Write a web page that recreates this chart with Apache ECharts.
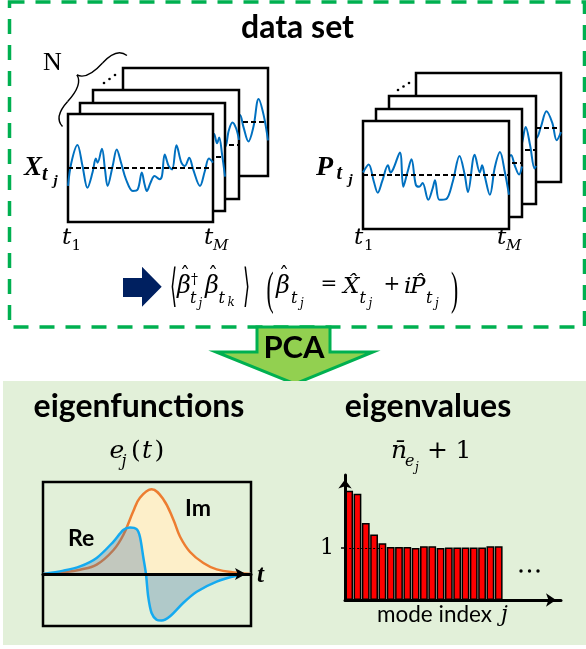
<!DOCTYPE html>
<html><head><meta charset="utf-8">
<script src="https://cdn.jsdelivr.net/npm/echarts@6/dist/echarts.min.js"></script>
<style>html,body{margin:0;padding:0;background:#fff}#c{width:586px;height:649px}</style>
</head><body><div id="c"></div>
<script>
// ---------------- data ----------------
// time-series frames (t from 0 = t1 to 100 = tM), normalized amplitude
const xSignalFront = [[0,-0.78],[2.3,0.23],[6.5,1.0],[10,0.09],[13.4,-0.86],[16.9,-0.2],[19.2,0.41],[20.4,0.23],[23.4,0.84],[25.5,-0.06],[27.3,-0.78],[30.8,0.09],[33.6,0.81],[36.6,0.23],[40,-0.49],[44.7,-1.0],[48.1,-0.93],[50.9,-0.2],[52.8,-0.71],[54.4,-1.0],[56.9,-0.64],[59.7,-0.35],[63.2,-0.49],[64.8,-0.35],[66.7,0.59],[69.4,0.09],[71.8,-0.06],[74.8,0.99],[78.2,0.23],[80.6,0.09],[83.6,0.45],[86.3,-0.06],[91,-0.78],[94.4,-0.13],[97.2,0.41],[100,0.23]];
const xSignalBack1 = [[84,-0.6],[88,-0.3],[90.5,0.6],[92.5,1.0],[94.5,0.6],[96,0.85],[98,0.1],[100,-0.85]];
const xSignalBack2 = [[84,-0.5],[87,0.3],[90.5,-0.1],[93,0.6],[95.5,0.95],[98,0.7],[100,0.2]];
const xSignalBack3 = [[72,0.6],[76,-0.4],[80.7,0.3],[83,-0.2],[86.5,-0.85],[90,-0.2],[93.5,1.0],[97,0.3],[100,-0.8]];
const pSignalFront = [[0,0.11],[3.9,0.46],[7.4,-0.28],[10.1,-0.77],[13.1,-0.28],[17.1,0.42],[18.9,0.11],[20.7,0.26],[25.3,0.98],[27.6,-0.51],[30.4,0.11],[33.2,0.68],[36.2,-0.43],[38.5,-0.51],[40.8,-0.35],[44.7,-1.08],[47.7,-0.58],[49.3,-0.23],[52.3,-1.08],[56.9,-1.05],[61.5,-0.28],[66.1,0.83],[69.6,0.03],[71.9,-0.74],[76.5,0.88],[80,0.11],[81.6,0.42],[83.4,-0.05],[86.9,-0.86],[90.3,0.34],[93.8,1.0],[97.2,0.11],[100,-0.86]];
const pSignalBack1 = [[84,-0.5],[87,-0.4],[90,0.1],[92.5,0.35],[95,-0.1],[98,-0.5],[100,-0.15]];
const pSignalBack2 = [[84,0.4],[86.5,-0.6],[90.5,0.3],[93,1.0],[96,0.2],[99,-0.8],[100,-0.7]];
const pSignalBack3 = [[72,-0.3],[76,0.5],[80,-0.3],[83,-0.45],[86,0.0],[90,0.7],[94,0.2],[97,-0.55],[100,-0.2]];
// eigenfunction e_j(t): [t, value]
const imPart = [[0,0],[9.8,0.02],[17.8,0.05],[25.8,0.11],[33.8,0.28],[38.6,0.46],[43.4,0.74],[46.6,0.9],[52.2,1.0],[57.9,0.88],[62.7,0.64],[65.9,0.44],[70.7,0.26],[77.1,0.13],[83.5,0.055],[93.1,0.016],[100,0]];
const rePart = [[0,0],[9.8,0.04],[17.8,0.09],[25.8,0.19],[33.8,0.38],[38.6,0.52],[41.8,0.55],[45,0.53],[46.6,0.44],[48.2,0.2],[49.5,0],[50.6,-0.27],[52.2,-0.46],[54.6,-0.54],[57,-0.55],[61.1,-0.5],[67.5,-0.34],[73.9,-0.21],[83.5,-0.09],[93.1,-0.02],[100,0]];
// eigenvalues n_e + 1 per mode index
const modeIndex = ['1','2','3','4','5','6','7','8','9','10','11','12','13','14','15','16','17','18','19','20','21','22','23','24','25','26'];
const eigenvalues = [2.10,2.04,1.48,1.26,1.09,1.02,1.02,1.02,1.0,1.03,1.03,1.0,1.01,1.01,1.01,1.01,1.01,1.03,1.03];
const eigenTickValues = [1];

// ---------------- layout ----------------
const xFrames = [ // back -> front : [left, top, width, height]
  {rect:[123,68,145,108], data:xSignalBack3},
  {rect:[93,90,146,109], data:xSignalBack2},
  {rect:[80,103,145,108], data:xSignalBack1},
  {rect:[68,114,145,108], data:xSignalFront}
];
const pFrames = [
  {rect:[416,73,145,109], data:pSignalBack3},
  {rect:[389,96,147,108], data:pSignalBack2},
  {rect:[376,109,146,108], data:pSignalBack1},
  {rect:[363,121,146,108], data:pSignalFront}
];

const grids = [], xAxes = [], yAxes = [], series = [];
function addFrame(f, layer) {
  const gi = grids.length, z = 10 + layer * 10;
  grids.push({left:f.rect[0], top:f.rect[1], width:f.rect[2], height:f.rect[3], show:true,
    backgroundColor:'#fff', borderColor:'#000', borderWidth:2.5, z:z});
  xAxes.push({gridIndex:gi, type:'value', min:0, max:100, show:false});
  yAxes.push({gridIndex:gi, type:'value', min:-2.35, max:2.35, show:false});
  series.push({type:'line', xAxisIndex:gi, yAxisIndex:gi, data:f.data, smooth:0.35, symbol:'none',
    lineStyle:{color:'#0070c0', width:2}, z:z+1,
    markLine:{silent:true, symbol:'none', z:z+2, animation:false, label:{show:false},
      lineStyle:{color:'#000', type:[5,3], width:1.8}, data:[{yAxis:0}]}});
}
xFrames.forEach((f,i)=>addFrame(f,i));
pFrames.forEach((f,i)=>addFrame(f,i));

// eigenfunction panel
let gi = grids.length;
grids.push({left:43, top:482, width:208, height:144, show:true, backgroundColor:'transparent',
  borderColor:'#000', borderWidth:2.5, z:5});
xAxes.push({gridIndex:gi, type:'value', min:0, max:100, z:10,
  axisLine:{show:true, onZero:true, symbol:['none','arrow'], symbolSize:[9,11], symbolOffset:[0,-5],
    lineStyle:{color:'#000', width:3}},
  axisTick:{show:false}, axisLabel:{show:false}, splitLine:{show:false}});
yAxes.push({gridIndex:gi, type:'value', min:-0.614, max:1.086, show:false});
series.push({type:'line', name:'Im', xAxisIndex:gi, yAxisIndex:gi, data:imPart, smooth:0.4, symbol:'none',
  lineStyle:{color:'#ed7d31', width:2.5}, areaStyle:{color:'#fdefc9', opacity:1, origin:0}, z:6});
series.push({type:'line', name:'Re', xAxisIndex:gi, yAxisIndex:gi, data:rePart, smooth:0.3, symbol:'none',
  lineStyle:{color:'#14aaf0', width:2.5}, areaStyle:{color:'rgba(70,118,168,0.32)', opacity:1, origin:0}, z:7});

// eigenvalue bar chart
gi = grids.length;
grids.push({left:345, top:475, width:216, height:125, z:5});
xAxes.push({gridIndex:gi, type:'category', data:modeIndex, z:10,
  axisLine:{show:true, symbol:['none','arrow'], symbolSize:[10,10], symbolOffset:[0,-5],
    lineStyle:{color:'#000', width:3}},
  axisTick:{show:false}, axisLabel:{show:false}, splitLine:{show:false}});
yAxes.push({gridIndex:gi, type:'value', min:0, max:2.4, interval:1, z:10,
  axisLine:{show:true, symbol:['none','arrow'], symbolSize:[10,9], symbolOffset:[0,-4.5],
    lineStyle:{color:'#000', width:3}},
  axisTick:{show:true, customValues:eigenTickValues, length:4, lineStyle:{color:'#000', width:1.5}},
  axisLabel:{show:true, customValues:eigenTickValues, formatter:v=>(eigenTickValues.indexOf(v)>=0?String(v):''),
    color:'#000', fontFamily:"'DejaVu Serif', serif", fontSize:22, margin:11},
  splitLine:{show:false}});
series.push({type:'bar', xAxisIndex:gi, yAxisIndex:gi, data:eigenvalues, barCategoryGap:'6%', z:6,
  itemStyle:{color:'#ff0000', borderColor:'#000', borderWidth:1.5},
  markLine:{silent:true, symbol:'none', z:8, animation:false, label:{show:false},
    lineStyle:{color:'#000', type:[2,2], width:1},
    data:[[{coord:[modeIndex[0],1]},{coord:[modeIndex[4],1]}]]}});

// ---------------- text & decorations ----------------
const FAM = {lato:"Lato, 'Open Sans', sans-serif", math:"'DejaVu Serif', serif", times:"'Liberation Serif', serif", sym:"'DejaVu Sans', sans-serif"};
const MID = {lato:0.387, math:0.346, times:0.3375, sym:0.37};
function T(s, x, base, size, fam, o) {
  o = o || {};
  const al = o.align || 'left';
  return {type:'text', z:60, x:x, y:base - MID[fam]*size,
    style:{text:s, font:(o.style||'normal')+' '+(o.weight||'normal')+' '+size+'px '+FAM[fam],
      fill:o.color||'#000', align:al, textAlign:al, verticalAlign:'middle', textVerticalAlign:'middle'}};
}
function B(s, cx, cy, size, fam, sx, sy, shift) {
  return {type:'text', z:60, x:cx, y:cy - (shift||0)*size*sy, scaleX:sx, scaleY:sy,
    style:{text:s, font:'normal normal '+size+'px '+FAM[fam], fill:'#000',
      align:'center', textAlign:'center', verticalAlign:'middle', textVerticalAlign:'middle'}};
}
const it = {style:'italic'}, bi = {style:'italic', weight:'bold'}, bold = {weight:'bold'};
const hat = {align:'center'};
const graphics = [
  {type:'rect', z:1, shape:{x:9.5, y:2, width:575, height:325},
    style:{fill:'none', stroke:'#00b050', lineWidth:3.5, lineDash:[15,11]}},
  {type:'polygon', z:2, shape:{points:[[257,327],[330,327],[330,352],[373,352],[295,384],[216,352],[257,352]]},
    style:{fill:'#92d050', stroke:'#00b050', lineWidth:3}},
  {type:'rect', z:3, shape:{x:3, y:381, width:583, height:264}, style:{fill:'#e2f0d9'}},
  {type:'polygon', z:50, shape:{points:[[123,278],[142,278],[142,266.7],[161.7,286.7],[142,306.7],[142,297],[123,297]]},
    style:{fill:'#002060'}},
  {type:'group', z:50, x:92.5, y:89, rotation:0.835, children:[
    {type:'bezierCurve', z:50, shape:{x1:-48,y1:3,cpx1:-47,cpy1:-10,x2:-26,y2:-10}, style:{fill:'none',stroke:'#000',lineWidth:1.4}},
    {type:'bezierCurve', z:50, shape:{x1:-26,y1:-10,cpx1:-3,cpy1:-10,x2:0,y2:-21}, style:{fill:'none',stroke:'#000',lineWidth:1.4}},
    {type:'bezierCurve', z:50, shape:{x1:0,y1:-21,cpx1:3,cpy1:-10,x2:26,y2:-10}, style:{fill:'none',stroke:'#000',lineWidth:1.4}},
    {type:'bezierCurve', z:50, shape:{x1:26,y1:-10,cpx1:47,cpy1:-10,x2:48,y2:3}, style:{fill:'none',stroke:'#000',lineWidth:1.4}}
  ]},
  {type:'circle', z:50, shape:{cx:104,cy:83,r:1.3}, style:{fill:'#000'}},
  {type:'circle', z:50, shape:{cx:109.5,cy:79,r:1.3}, style:{fill:'#000'}},
  {type:'circle', z:50, shape:{cx:115,cy:75,r:1.3}, style:{fill:'#000'}},
  {type:'circle', z:50, shape:{cx:398,cy:90,r:1.3}, style:{fill:'#000'}},
  {type:'circle', z:50, shape:{cx:403.5,cy:86.5,r:1.3}, style:{fill:'#000'}},
  {type:'circle', z:50, shape:{cx:409,cy:83,r:1.3}, style:{fill:'#000'}},
  {type:'circle', z:50, shape:{cx:521,cy:571,r:1.7}, style:{fill:'#000'}},
  {type:'circle', z:50, shape:{cx:529.5,cy:571,r:1.7}, style:{fill:'#000'}},
  {type:'circle', z:50, shape:{cx:538,cy:571,r:1.7}, style:{fill:'#000'}},
  // titles
  T('data set', 297.5, 40, 32, 'lato', {weight:'bold', align:'center'}),
  T('PCA', 294, 360, 31, 'lato', {weight:'bold', align:'center'}),
  T('eigenfunctions', 139, 419, 32, 'lato', {weight:'bold', align:'center'}),
  T('eigenvalues', 428, 419, 32, 'lato', {weight:'bold', align:'center'}),
  T('N', 43, 72, 26, 'times'),
  // X_{t_j}, P_{t_j}
  T('X', 24, 177, 27, 'times', bi), T('t', 42, 182, 20, 'times', bi), T('j', 53.5, 186, 15, 'times', bi),
  T('P', 316, 177, 28, 'times', bi), T('t', 336.5, 181, 20, 'times', bi), T('j', 348.5, 185, 15, 'times', bi),
  // t1, tM
  T('t', 62, 246, 23, 'math', it), T('1', 71.5, 251, 15, 'math'),
  T('t', 204, 246, 23, 'math', it), T('M', 213, 251, 15, 'math', it),
  T('t', 354, 246, 23, 'math', it), T('1', 364, 251, 15, 'math'),
  T('t', 497, 246, 23, 'math', it), T('M', 506, 251, 15, 'math', it),
  // formula
  B('\u27E8', 173.5, 286.5, 26, 'sym', 0.7, 1.75, -0.06),
  T('\u03B2', 177, 295, 24, 'math', it), T('\u02C6', 185, 283.5, 20, 'math', hat), T('\u2020', 191, 285, 14, 'math'),
  T('t', 190, 304.5, 16, 'math', it), T('j', 198.5, 308.5, 12, 'math', it),
  T('\u03B2', 205, 295, 24, 'math', it), T('\u02C6', 213, 283.5, 20, 'math', hat),
  T('t', 218.5, 304.5, 16, 'math', it), T('k', 227.5, 307.5, 12, 'math', it),
  B('\u27E9', 246.5, 286.5, 26, 'sym', 0.7, 1.75, -0.06),
  B('(', 270, 287, 27, 'times', 0.8, 1.7, -0.1),
  T('\u03B2', 276, 295, 24, 'math', it), T('\u02C6', 284, 283.5, 20, 'math', hat),
  T('t', 291, 304.5, 16, 'math', it), T('j', 300, 308.5, 12, 'math', it),
  T('=', 320.5, 292, 20, 'math'),
  T('X\u0302', 343, 295, 23, 'math', it),
  T('t', 359.5, 304.5, 16, 'math', it), T('j', 368.5, 308.5, 12, 'math', it),
  T('+', 383.5, 292, 20, 'math'),
  T('i', 404, 295, 23, 'math', it), T('P\u0302', 410, 295, 23, 'math', it),
  T('t', 426, 304.5, 16, 'math', it), T('j', 435, 308.5, 12, 'math', it),
  B(')', 454.5, 287, 27, 'times', 0.8, 1.7, -0.1),
  // eigen subtitles
  T('e', 109.5, 460, 25, 'math', it), T('j', 121.5, 467, 16, 'math', it),
  T('(', 131, 460, 25, 'math'), T('t', 142, 460, 25, 'math', it), T(')', 154.5, 460, 25, 'math'),
  T('n\u0304', 391, 460, 25, 'math', it), T('e', 405, 467, 16, 'math', it), T('j', 415, 472, 12, 'math', it),
  T('+', 427, 460, 25, 'math'), T('1', 455.5, 460, 25, 'math'),
  // panel labels
  T('Re', 68, 547, 23, 'lato', bold), T('Im', 185, 517, 23, 'lato', bold),
  T('t', 257, 584, 25, 'times', bi),
  T('mode index', 377, 623, 22.5, 'lato'), T('j', 501, 623, 22, 'math', it)
];

const chart = echarts.init(document.getElementById('c'), null, {renderer:'canvas'});
chart.setOption({
  backgroundColor:'#fff', animation:false,
  grid:grids, xAxis:xAxes, yAxis:yAxes, series:series,
  graphic:{elements:graphics}
});
</script></body></html>
